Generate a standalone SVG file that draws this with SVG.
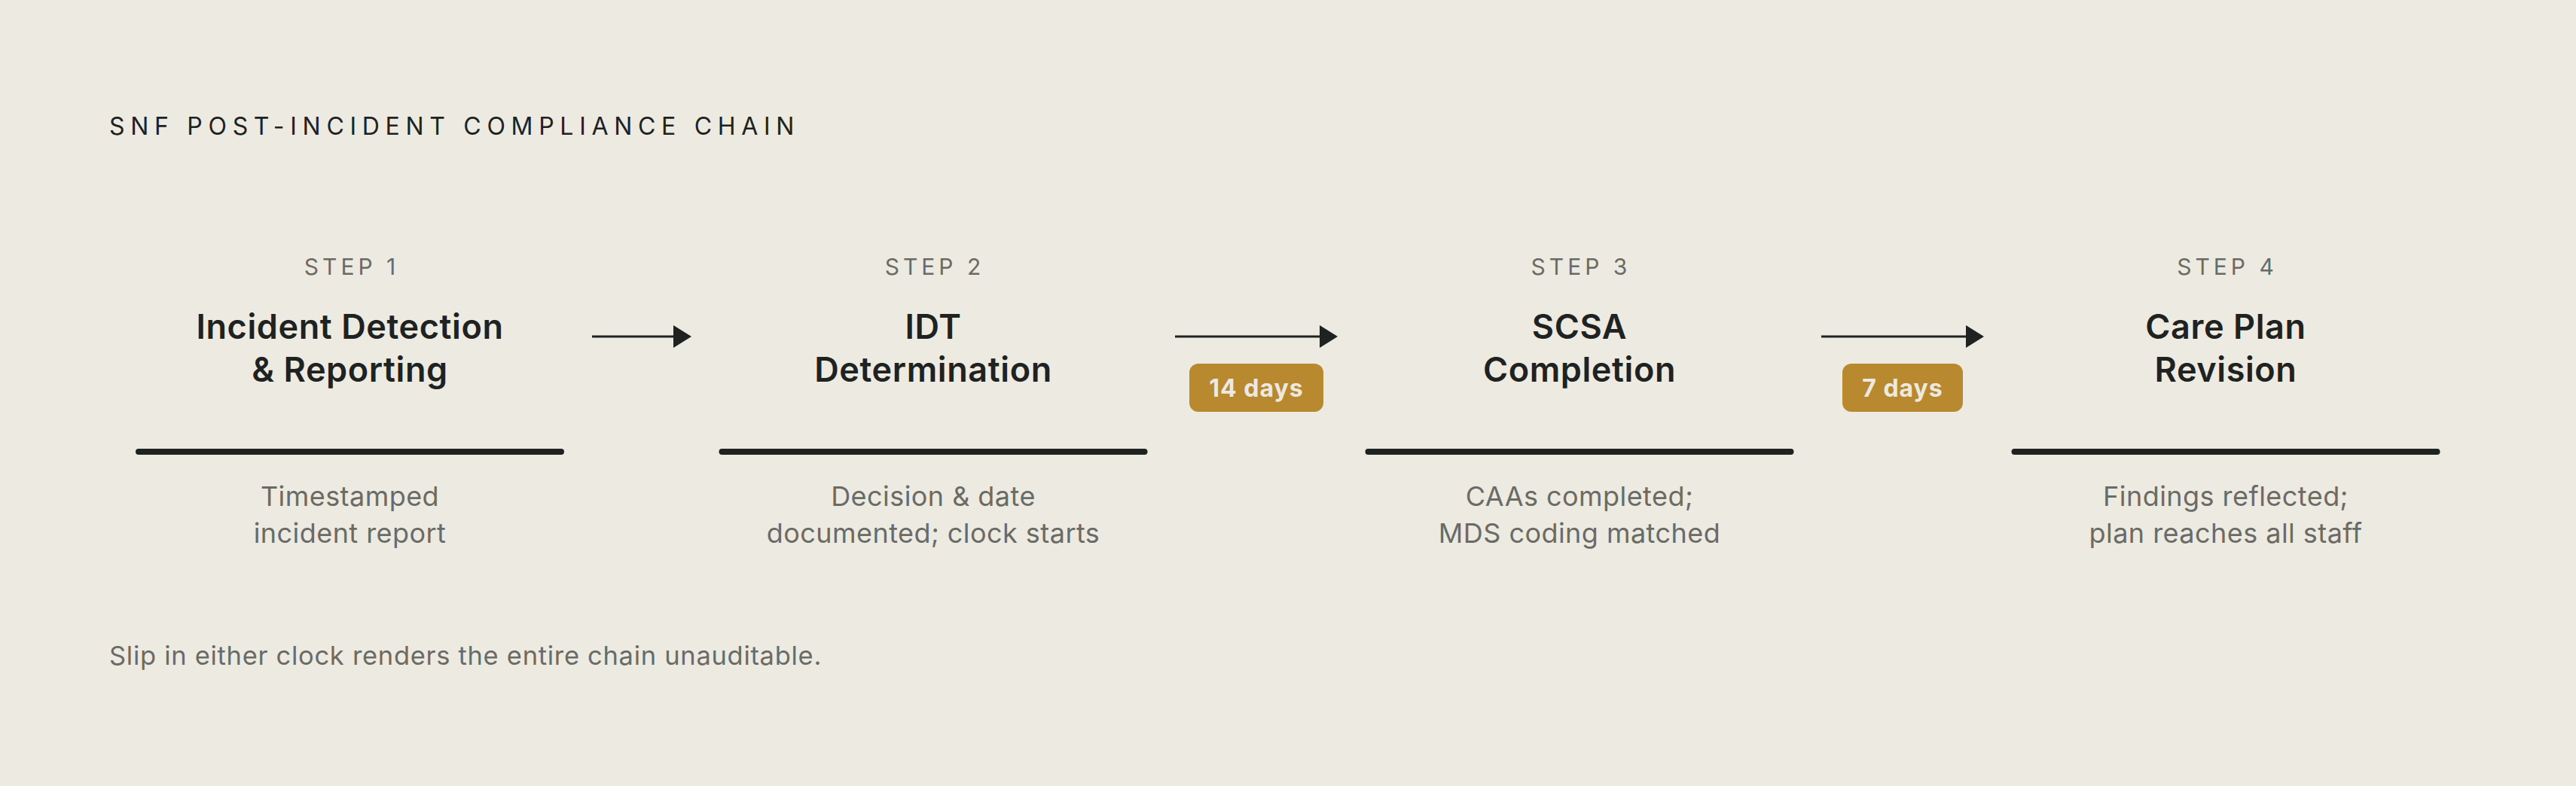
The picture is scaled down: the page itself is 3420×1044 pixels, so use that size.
<svg xmlns="http://www.w3.org/2000/svg" width="3420" height="1044" viewBox="0 0 3420 1044">
<defs>
<style>
.bg{fill:#edeae2}
.h{font-family:Inter,"Liberation Sans",sans-serif;font-size:32px;letter-spacing:7.7px;fill:#1e2221}
.step{font-family:Inter,"Liberation Sans",sans-serif;font-size:30px;letter-spacing:5px;fill:#6b6b66;text-anchor:middle}
.ttl{font-family:Inter,"Liberation Sans",sans-serif;font-size:45px;font-weight:600;letter-spacing:0.6px;fill:#1e2221;text-anchor:middle}
.desc{font-family:Inter,"Liberation Sans",sans-serif;font-size:36px;letter-spacing:0.45px;fill:#6b6b66;text-anchor:middle}
.foot{font-family:Inter,"Liberation Sans",sans-serif;font-size:34.5px;letter-spacing:0.7px;fill:#6b6b66}
.bar{stroke:#1e2221;stroke-width:8;stroke-linecap:round}
.conn{stroke:#1e2221;stroke-width:3;fill:none}
.badge{fill:#b8892e}
.btxt{font-family:Inter,"Liberation Sans",sans-serif;font-size:32px;font-weight:700;fill:#ede9e1;text-anchor:middle;letter-spacing:1px}
</style>
<marker id="arr" markerUnits="userSpaceOnUse" markerWidth="24" markerHeight="30" refX="6" refY="15" orient="auto">
<path d="M0,0 L24,15 L0,30 Z" fill="#1e2221"/>
</marker>
</defs>
<rect class="bg" x="0" y="0" width="3420" height="1044"/>
<text class="h" x="145" y="179">SNF POST-INCIDENT COMPLIANCE CHAIN</text>

<g id="step1">
<text class="step" x="467" y="365">STEP 1</text>
<text class="ttl" x="464.5" y="450">Incident Detection</text>
<text class="ttl" x="464.5" y="507">&amp; Reporting</text>
<line class="bar" x1="184" y1="600" x2="745" y2="600"/>
<text class="desc" x="464.5" y="672">Timestamped</text>
<text class="desc" x="464.5" y="721">incident report</text>
</g>

<g id="step2">
<text class="step" x="1241" y="365">STEP 2</text>
<text class="ttl" x="1239" y="450">IDT</text>
<text class="ttl" x="1239" y="507">Determination</text>
<line class="bar" x1="958.5" y1="600" x2="1519.5" y2="600"/>
<text class="desc" x="1239" y="672">Decision &amp; date</text>
<text class="desc" x="1239" y="721">documented; clock starts</text>
</g>

<g id="step3">
<text class="step" x="2099" y="365">STEP 3</text>
<text class="ttl" x="2097" y="450">SCSA</text>
<text class="ttl" x="2097" y="507">Completion</text>
<line class="bar" x1="1816.5" y1="600" x2="2377.5" y2="600"/>
<text class="desc" x="2097" y="672">CAAs completed;</text>
<text class="desc" x="2097" y="721">MDS coding matched</text>
</g>

<g id="step4">
<text class="step" x="2957" y="365">STEP 4</text>
<text class="ttl" x="2955" y="450">Care Plan</text>
<text class="ttl" x="2955" y="507">Revision</text>
<line class="bar" x1="2674.5" y1="600" x2="3235.5" y2="600"/>
<text class="desc" x="2955" y="672">Findings reflected;</text>
<text class="desc" x="2955" y="721">plan reaches all staff</text>
</g>

<g id="connectors">
<line class="conn" x1="786" y1="447" x2="900" y2="447" marker-end="url(#arr)"/>
<line class="conn" x1="1560" y1="447" x2="1758" y2="447" marker-end="url(#arr)"/>
<line class="conn" x1="2418" y1="447" x2="2616" y2="447" marker-end="url(#arr)"/>
<g id="badge1">
<rect class="badge" x="1579" y="483" width="178" height="64" rx="12"/>
<text class="btxt" x="1668" y="527">14 days</text>
</g>
<g id="badge2">
<rect class="badge" x="2446" y="483" width="160" height="64" rx="12"/>
<text class="btxt" x="2526" y="527">7 days</text>
</g>
</g>

<text class="foot" x="145" y="883">Slip in either clock renders the entire chain unauditable.</text>
</svg>
